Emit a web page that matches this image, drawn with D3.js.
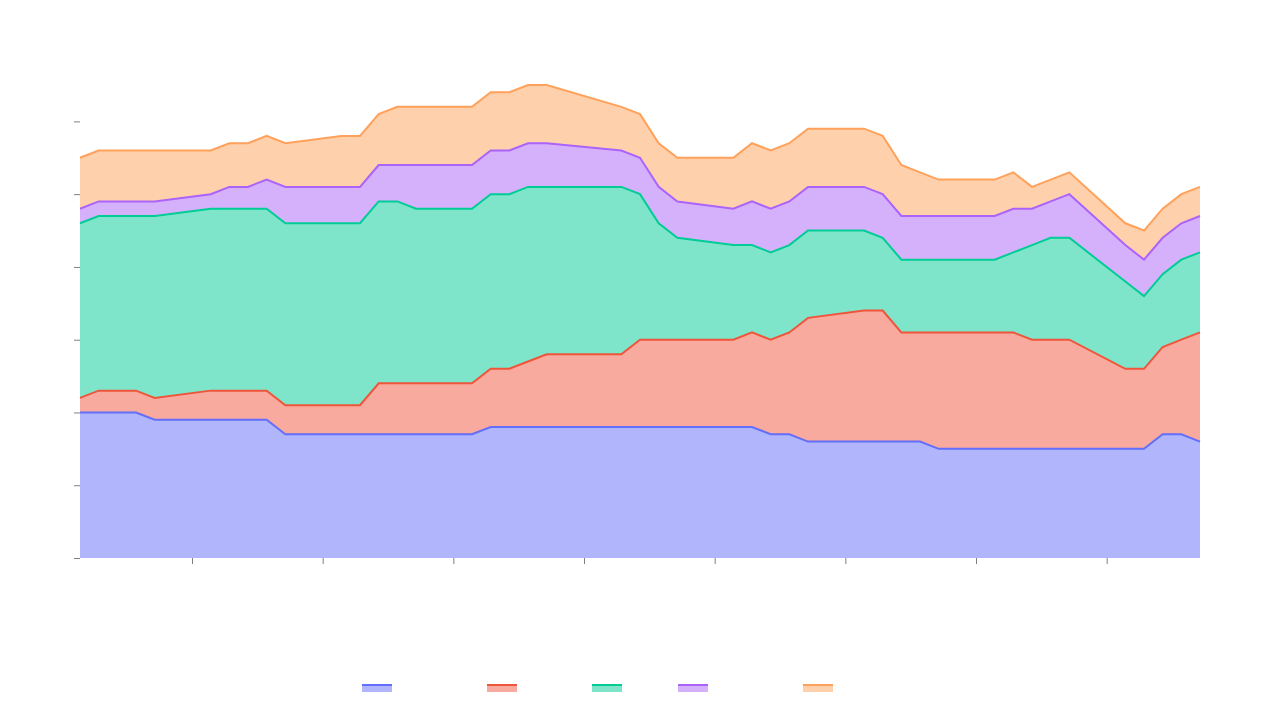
<!DOCTYPE html>
<html>
  <head>
    <meta charset="utf-8">
    <title>Stacked area</title>
    <script src="https://cdnjs.cloudflare.com/ajax/libs/d3/7.8.5/d3.min.js"></script>
    <style>
      html, body { margin: 0; padding: 0; background: #fff; }
      .tick line { stroke: #808080; }
    </style>
  </head>
  <body>
    <svg class="chart"></svg>
    <script>
      // trading days (one Monday missing)
      var dates = [
        "2024-01-01","2024-01-02","2024-01-03","2024-01-04","2024-01-05",
        "2024-01-08","2024-01-09","2024-01-10","2024-01-11","2024-01-12",
        "2024-01-15","2024-01-16","2024-01-17","2024-01-18","2024-01-19",
        "2024-01-22","2024-01-23","2024-01-24","2024-01-25","2024-01-26",
        "2024-01-30","2024-01-31","2024-02-01","2024-02-02",
        "2024-02-05","2024-02-06","2024-02-07","2024-02-08","2024-02-09",
        "2024-02-12","2024-02-13","2024-02-14","2024-02-15","2024-02-16",
        "2024-02-19","2024-02-20","2024-02-21","2024-02-22","2024-02-23",
        "2024-02-26","2024-02-27","2024-02-28","2024-02-29","2024-03-01"
      ];

      var seriesNames = ["trace 0", "trace 1", "trace 2", "trace 3", "trace 4"];

      var trace0 = [20,20,20,20,19, 19,19,19,19,17, 17,17,17,17,17, 17,18,18,18,18,
                    18,18,18,18, 18,18,17,17,16, 16,16,16,16,15, 15,15,15,15,15, 15,15,17,17,16];
      var trace1 = [2,3,3,3,3, 4,4,4,4,4, 4,4,7,7,7, 7,8,8,9,10,
                    10,12,12,12, 12,13,13,14,17, 18,18,15,15,16, 16,16,15,15,15, 11,11,12,13,15];
      var trace2 = [24,24,24,24,25, 25,25,25,25,25, 25,25,25,25,24, 24,24,24,24,23,
                    23,20,16,14, 13,12,12,12,12, 11,10,10,10,10, 10,11,13,14,14, 12,10,10,11,11];
      var trace3 = [2,2,2,2,2, 2,3,3,4,5, 5,5,5,5,6, 6,6,6,6,6,
                    5,5,5,5, 5,6,6,6,6, 6,6,6,6,6, 6,6,5,5,6, 5,5,5,5,5];
      var trace4 = [7,7,7,7,7, 6,6,6,6,6, 7,7,7,8,8, 8,8,8,8,8,
                    6,6,6,6, 7,8,8,8,8, 8,8,7,6,5, 5,5,3,3,3, 3,4,4,4,4];

      var colors = ["#636efa", "#ef553b", "#00cc96", "#ab63fa", "#ffa15a"];
      var legendGaps = [0, 125, 230, 316, 441];

      var W = 1280, H = 720;
      var margin = {top: 85, right: 80, bottom: 162, left: 80};
      var width = W - margin.left - margin.right;
      var height = H - margin.top - margin.bottom;

      var parse = d3.utcParse("%Y-%m-%d");
      var values = [trace0, trace1, trace2, trace3, trace4];
      var rows = dates.map(function(d, i) {
        var r = {date: parse(d)};
        seriesNames.forEach(function(k, j) { r[k] = values[j][i]; });
        return r;
      });

      var layers = d3.stack().keys(seriesNames)(rows);

      var x = d3.scaleUtc()
                .domain(d3.extent(rows, function(d) { return d.date; }))
                .range([0, width]);
      var y = d3.scaleLinear()
                .domain([0, d3.max(layers[layers.length - 1], function(d) { return d[1]; })])
                .range([height, 0]);

      var svg = d3.select(".chart").attr("width", W).attr("height", H);
      var chart = svg.append("g")
                     .attr("transform", "translate(" + margin.left + "," + margin.top + ")");

      var area = d3.area()
                   .x(function(d) { return x(d.data.date); })
                   .y0(function(d) { return y(d[0]); })
                   .y1(function(d) { return y(d[1]); });
      var line = d3.line()
                   .x(function(d) { return x(d.data.date); })
                   .y(function(d) { return y(d[1]); });

      chart.selectAll(".area")
           .data(layers)
           .enter().append("path")
           .attr("class", "area")
           .attr("d", area)
           .attr("fill", function(d, i) { return colors[i]; })
           .attr("fill-opacity", 0.5);

      chart.selectAll(".line")
           .data(layers)
           .enter().append("path")
           .attr("class", "line")
           .attr("d", line)
           .attr("fill", "none")
           .attr("stroke", function(d, i) { return colors[i]; })
           .attr("stroke-width", 2);

      var yAxis = d3.axisLeft(y).tickValues(d3.range(0, 61, 10)).tickFormat("").tickSize(6);
      chart.append("g").attr("class", "y axis").call(yAxis).select(".domain").remove();

      var xAxis = d3.axisBottom(x).ticks(d3.utcWeek.every(1)).tickFormat("").tickSize(6);
      chart.append("g").attr("class", "x axis")
           .attr("transform", "translate(0," + height + ")")
           .call(xAxis).select(".domain").remove();

      var legend = svg.append("g").attr("transform", "translate(362,685)");
      var item = legend.selectAll(".item")
                       .data(seriesNames)
                       .enter().append("g")
                       .attr("class", "item")
                       .attr("transform", function(d, i) { return "translate(" + legendGaps[i] + ",0)"; });
      item.append("rect")
          .attr("width", 30).attr("height", 7)
          .attr("fill", function(d, i) { return colors[i]; })
          .attr("fill-opacity", 0.5);
      item.append("line")
          .attr("x1", 0).attr("x2", 30).attr("y1", 0).attr("y2", 0)
          .attr("stroke", function(d, i) { return colors[i]; })
          .attr("stroke-width", 2);
    </script>
  </body>
</html>
